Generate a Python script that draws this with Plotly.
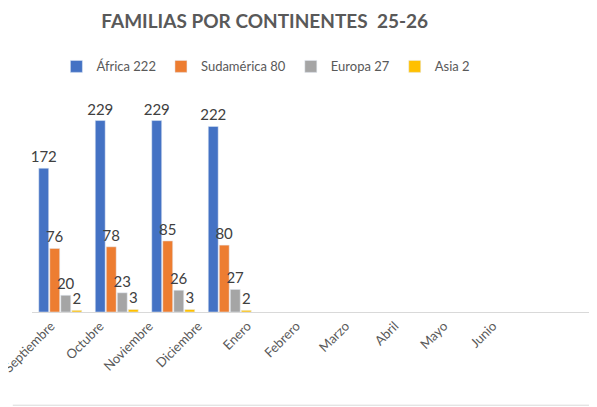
import plotly.graph_objects as go

months = ["Septiembre", "Octubre", "Noviembre", "Diciembre", "Enero",
          "Febrero", "Marzo", "Abril", "Mayo", "Junio"]
africa = [172, 229, 229, 222, None, None, None, None, None, None]
sudamerica = [76, 78, 85, 80, None, None, None, None, None, None]
europa = [20, 23, 26, 27, None, None, None, None, None, None]
asia = [2, 3, 3, 2, None, None, None, None, None, None]

series = [
    ("África 222", africa, "#4472C4"),
    ("Sudamérica 80", sudamerica, "#ED7D31"),
    ("Europa 27", europa, "#A5A5A5"),
    ("Asia 2", asia, "#FFC000"),
]

fig = go.Figure()
for name, vals, color in series:
    fig.add_trace(go.Bar(
        x=months, y=vals, name=name, marker_color=color,
        text=[str(v) if v is not None else "" for v in vals],
        textposition="outside", cliponaxis=False, textangle=0,
        textfont=dict(size=15, color="#404040", family="Lato"),
    ))

# invisible helper trace so the label axis (x2) is drawn
fig.add_trace(go.Scatter(x=list(range(len(months))), y=[None] * len(months),
                         xaxis="x2", yaxis="y", mode="markers", showlegend=False,
                         hoverinfo="skip"))

fig.update_layout(
    width=597, height=407,
    margin=dict(l=24, r=8, t=95, b=103),
    paper_bgcolor="white", plot_bgcolor="white",
    font=dict(family="Lato", color="#595959"),
    title=dict(text="<b>FAMILIAS POR CONTINENTES  25-26</b>", x=0.43, xanchor="center",
               y=0.966, yanchor="middle",
               font=dict(size=19, color="#595959", family="Lato")),
    legend=dict(orientation="h", x=0.414, xanchor="center", y=1.175, yanchor="middle",
                font=dict(size=13, color="#595959", family="Lato"),
                itemwidth=30),
    uniformtext=dict(minsize=15, mode="show"),
    bargap=0.22, bargroupgap=0.1,
    showlegend=True,
    xaxis=dict(showline=True, linecolor="#D9D9D9", linewidth=1,
               showticklabels=False, ticks="", showgrid=False, automargin=False),
    xaxis2=dict(overlaying="x", anchor="y", side="bottom", type="linear",
                range=[-0.387, 11.12], tickmode="array",
                tickvals=list(range(len(months))), ticktext=months,
                tickangle=-45, tickfont=dict(size=13, color="#595959"),
                ticklabeloverflow="allow", ticklabelstandoff=3,
                showline=False, showgrid=False, zeroline=False, ticks="",
                automargin=False),
    yaxis=dict(visible=False, range=[0, 250], showgrid=False, automargin=False),
)
fig.add_shape(type="line", xref="paper", yref="paper", x0=-0.034, x1=1.0, y0=-0.446, y1=-0.446,
              line=dict(color="#D9D9D9", width=1))
fig.write_html("out.html")
